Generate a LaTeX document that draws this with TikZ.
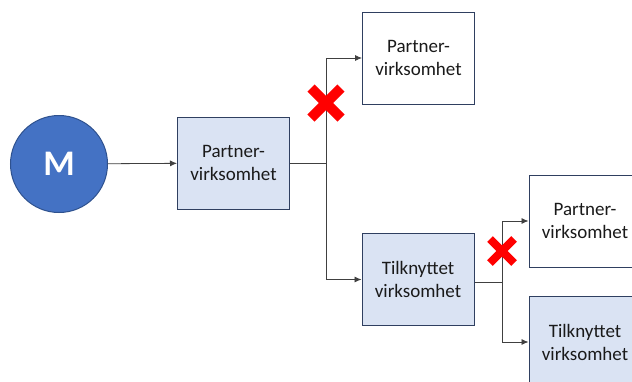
\documentclass[tikz,border=0pt]{standalone}
\usepackage{fontspec}
\setmainfont{Carlito}
\usetikzlibrary{arrows.meta}
\definecolor{boxfill}{HTML}{DAE3F3}
\definecolor{boxline}{HTML}{2F3F60}
\definecolor{mfill}{HTML}{4472C4}
\definecolor{mline}{HTML}{2F528F}
\definecolor{txt}{HTML}{1A1A1A}
\definecolor{conn}{HTML}{404040}
\definecolor{xred}{HTML}{FF0000}
\tikzset{
  ent/.style={draw=boxline, line width=1pt, minimum width=112pt, minimum height=92pt,
    inner sep=0pt, align=center, text=txt, font=\fontsize{19}{23}\selectfont},
  filled/.style={ent, fill=boxfill},
  plain/.style={ent, fill=white},
  conn/.style={draw=conn, line width=0.8pt, -{Latex[length=7pt,width=6pt]}},
  xmark/.style={draw=xred, line width=#1, line cap=butt}
}
\begin{document}
\begin{tikzpicture}[x=1pt,y=-1pt]
\useasboundingbox (0,0) rectangle (632,381);
\clip (0,0) rectangle (632,381);
\fill[white] (0,0) rectangle (632,381);
\node[circle, draw=mline, line width=1pt, fill=mfill, minimum size=97pt, inner sep=0pt,
  text=white, font=\fontsize{36}{40}\selectfont\bfseries] (m) at (59,164) {M};
\node[filled] (p1) at (233.5,163) {Partner-\\virksomhet};
\node[plain] (p2) at (418.5,58) {Partner-\\virksomhet};
\node[filled] (t1) at (418,279.5) {Tilknyttet\\virksomhet};
\node[plain] (p3) at (585,221) {Partner-\\virksomhet};
\node[filled] (t2) at (585,342) {Tilknyttet\\virksomhet};
\coordinate (j1) at (326,163);
\coordinate (j2) at (502,282);
\draw[conn] (m) -- (p1);
\draw[draw=conn, line width=0.8pt] (p1.east |- j1) -- (j1);
\draw[conn] (j1) |- (p2.west);
\draw[conn] (j1) |- (t1.west);
\draw[draw=conn, line width=0.8pt] (t1.east |- j2) -- (j2);
\draw[conn] (j2) |- (p3.west);
\draw[conn] (j2) |- (t2.west);
% red crosses
\draw[xmark=10pt] (311,88) -- (341,118);
\draw[xmark=10pt] (311,118) -- (341,88);
\draw[xmark=8pt] (490,239) -- (514,263);
\draw[xmark=8pt] (490,263) -- (514,239);
\end{tikzpicture}
\end{document}
